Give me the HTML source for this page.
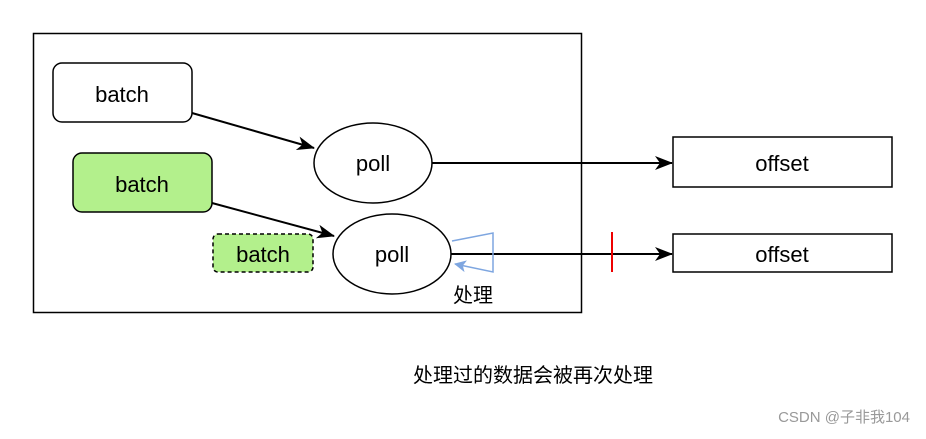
<!DOCTYPE html>
<html><head><style>body{margin:0;background:#fff}</style></head><body>
<svg width="926" height="434" xmlns="http://www.w3.org/2000/svg" font-family="Liberation Sans, Noto Sans CJK SC, sans-serif">
<defs>
<marker id="a" markerWidth="10" markerHeight="10" refX="9" refY="5" orient="auto" markerUnits="userSpaceOnUse"><path d="M0,0 L10,5 L0,10 L3,5z" fill="#000"/></marker>
<marker id="b" markerWidth="12" markerHeight="12" refX="11" refY="6" orient="auto" markerUnits="userSpaceOnUse"><path d="M0,0 L12,6 L0,12 L3,6z" fill="#7ea6e0"/></marker>
<marker id="c" markerWidth="18" markerHeight="14" refX="17" refY="7" orient="auto" markerUnits="userSpaceOnUse"><path d="M0,0 L18,7 L0,14 L5,7z" fill="#000"/></marker>
</defs>
<rect x="33.5" y="33.5" width="548" height="279" fill="none" stroke="#000" stroke-width="1.5"/>
<rect x="53" y="63" width="139" height="59" rx="9" fill="#fff" stroke="#000" stroke-width="1.5"/>
<text x="122" y="102" font-size="22" text-anchor="middle">batch</text>
<rect x="73" y="153" width="139" height="59" rx="9" fill="#b3f08c" stroke="#000" stroke-width="1.5"/>
<text x="142" y="192" font-size="22" text-anchor="middle">batch</text>
<rect x="213" y="234" width="100" height="38" rx="5" fill="#b3f08c" stroke="#000" stroke-width="1.5" stroke-dasharray="4,3"/>
<text x="263" y="262" font-size="22" text-anchor="middle">batch</text>
<ellipse cx="373" cy="163" rx="59" ry="40" fill="#fff" stroke="#000" stroke-width="1.5"/>
<text x="373" y="171" font-size="22" text-anchor="middle">poll</text>
<ellipse cx="392" cy="254" rx="59" ry="40" fill="#fff" stroke="#000" stroke-width="1.5"/>
<text x="392" y="262" font-size="22" text-anchor="middle">poll</text>
<line x1="192" y1="113" x2="314" y2="148" stroke="#000" stroke-width="2" marker-end="url(#c)"/>
<line x1="212" y1="203" x2="334" y2="236" stroke="#000" stroke-width="2" marker-end="url(#c)"/>
<line x1="432" y1="163" x2="672" y2="163" stroke="#000" stroke-width="2" marker-end="url(#c)"/>
<line x1="451" y1="254" x2="672" y2="254" stroke="#000" stroke-width="2" marker-end="url(#c)"/>
<polyline points="452,241 493,233 493,272 455,264" fill="none" stroke="#7ea6e0" stroke-width="1.5" marker-end="url(#b)"/>
<line x1="612" y1="232" x2="612" y2="272" stroke="#e00" stroke-width="2"/>
<text x="473" y="302" font-size="20" text-anchor="middle">处理</text>
<rect x="673" y="137" width="219" height="50" fill="#fff" stroke="#000" stroke-width="1.5"/>
<text x="782" y="171" font-size="22" text-anchor="middle">offset</text>
<rect x="673" y="234" width="219" height="38" fill="#fff" stroke="#000" stroke-width="1.5"/>
<text x="782" y="262" font-size="22" text-anchor="middle">offset</text>
<text x="533" y="382" font-size="20" text-anchor="middle">处理过的数据会被再次处理</text>
<text x="910" y="422" font-size="15" fill="#999" text-anchor="end">CSDN @子非我104</text>
</svg>
</body></html>
